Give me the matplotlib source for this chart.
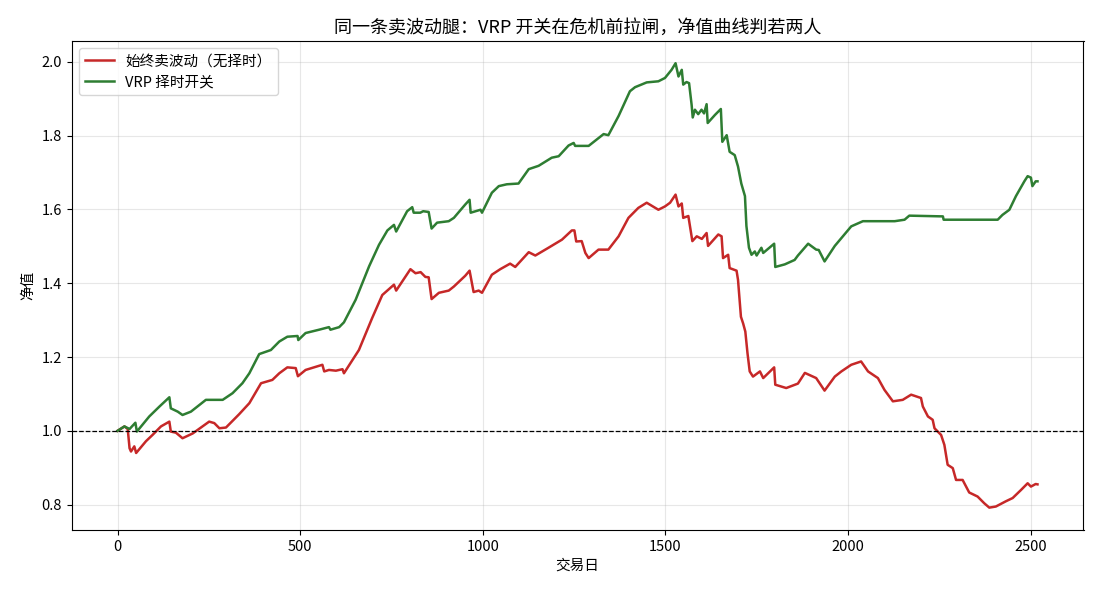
import matplotlib
matplotlib.use("Agg")
import matplotlib.pyplot as plt

plt.rcParams['font.family'] = ['Noto Sans CJK SC', 'DejaVu Sans']
plt.rcParams['axes.unicode_minus'] = False

# 始终卖波动 (无择时)
always_days = [0, 19, 28, 33, 37, 46, 51, 78, 96, 119, 142, 146, 160, 178, 206, 251, 265, 279, 297,
               333, 361, 393, 424, 443, 465, 488, 494, 515, 561, 566, 579, 598, 616, 620, 661,
               697, 725, 757, 763, 802, 816, 830, 843, 852, 860, 880, 907, 921, 952, 964, 975,
               989, 998, 1025, 1048, 1075, 1089, 1126, 1144, 1180, 1217, 1244, 1251, 1256,
               1271, 1281, 1290, 1317, 1344, 1372, 1399, 1413, 1426, 1449, 1481, 1499, 1513,
               1528, 1536, 1545, 1549, 1563, 1574, 1586, 1600, 1613, 1617, 1645, 1654, 1658,
               1672, 1676, 1690, 1695, 1699, 1707, 1713, 1719, 1725, 1731, 1740, 1759, 1768,
               1798, 1801, 1831, 1863, 1882, 1913, 1936, 1964, 1982, 2009, 2036, 2055, 2082,
               2100, 2123, 2150, 2173, 2200, 2205, 2219, 2232, 2237, 2255, 2264, 2273, 2287,
               2296, 2314, 2332, 2355, 2373, 2387, 2405, 2432, 2451, 2474, 2492, 2501, 2514, 2519]
always_nav = [1.000, 1.012, 1.005, 0.953, 0.944, 0.958, 0.940, 0.972, 0.989, 1.012, 1.025, 0.998,
              0.995, 0.980, 0.993, 1.025, 1.021, 1.007, 1.009, 1.045, 1.075, 1.129, 1.138, 1.156,
              1.172, 1.170, 1.148, 1.165, 1.179, 1.161, 1.165, 1.163, 1.167, 1.156, 1.219, 1.305,
              1.368, 1.396, 1.380, 1.438, 1.427, 1.430, 1.417, 1.416, 1.357, 1.374, 1.380, 1.391,
              1.420, 1.434, 1.376, 1.380, 1.374, 1.423, 1.438, 1.453, 1.444, 1.484, 1.475, 1.496,
              1.518, 1.543, 1.543, 1.513, 1.514, 1.482, 1.468, 1.491, 1.491, 1.527, 1.577, 1.591,
              1.604, 1.618, 1.599, 1.608, 1.618, 1.640, 1.608, 1.616, 1.577, 1.582, 1.514, 1.527,
              1.520, 1.536, 1.501, 1.532, 1.527, 1.468, 1.477, 1.441, 1.436, 1.434, 1.409, 1.309,
              1.291, 1.269, 1.210, 1.161, 1.147, 1.161, 1.143, 1.172, 1.125, 1.116, 1.128, 1.157,
              1.143, 1.109, 1.147, 1.161, 1.179, 1.188, 1.161, 1.143, 1.111, 1.080, 1.084, 1.098,
              1.089, 1.066, 1.039, 1.030, 1.007, 0.989, 0.962, 0.908, 0.899, 0.867, 0.867, 0.833,
              0.822, 0.804, 0.792, 0.795, 0.809, 0.818, 0.840, 0.858, 0.849, 0.856, 0.855]

# VRP 择时开关
vrp_days = [0, 19, 33, 49, 53, 87, 115, 142, 146, 165, 178, 201, 242, 288, 315, 342, 361, 388,
            420, 443, 465, 493, 495, 515, 552, 579, 583, 607, 620, 652, 689, 716, 739, 757, 763,
            793, 807, 811, 829, 837, 852, 860, 875, 907, 921, 952, 964, 967, 994, 998, 1025,
            1044, 1066, 1098, 1126, 1153, 1189, 1208, 1235, 1249, 1253, 1290, 1331, 1344, 1372,
            1403, 1417, 1449, 1481, 1499, 1517, 1528, 1536, 1545, 1549, 1558, 1565, 1572, 1575,
            1581, 1590, 1599, 1606, 1613, 1616, 1636, 1652, 1656, 1668, 1676, 1690, 1699, 1708,
            1718, 1722, 1729, 1736, 1745, 1750, 1763, 1768, 1798, 1801, 1827, 1854, 1863, 1891,
            1913, 1920, 1936, 1964, 1986, 2009, 2041, 2128, 2155, 2168, 2260, 2262, 2410, 2423,
            2442, 2460, 2483, 2492, 2501, 2505, 2514, 2519]
vrp_nav = [1.000, 1.012, 1.005, 1.022, 0.998, 1.039, 1.066, 1.091, 1.061, 1.052, 1.043, 1.052,
           1.084, 1.084, 1.102, 1.129, 1.156, 1.208, 1.219, 1.242, 1.255, 1.257, 1.246, 1.265,
           1.274, 1.281, 1.274, 1.281, 1.294, 1.355, 1.446, 1.504, 1.543, 1.558, 1.540, 1.595,
           1.606, 1.591, 1.591, 1.595, 1.593, 1.548, 1.564, 1.568, 1.577, 1.613, 1.626, 1.591,
           1.599, 1.591, 1.645, 1.663, 1.668, 1.670, 1.709, 1.718, 1.740, 1.744, 1.773, 1.780,
           1.772, 1.772, 1.804, 1.801, 1.853, 1.920, 1.931, 1.944, 1.947, 1.956, 1.978, 1.996,
           1.960, 1.978, 1.938, 1.945, 1.942, 1.883, 1.849, 1.870, 1.858, 1.870, 1.860, 1.885,
           1.834, 1.856, 1.872, 1.783, 1.801, 1.756, 1.747, 1.716, 1.670, 1.636, 1.555, 1.496,
           1.477, 1.486, 1.475, 1.496, 1.482, 1.507, 1.444, 1.451, 1.463, 1.475, 1.507, 1.491,
           1.490, 1.459, 1.501, 1.527, 1.554, 1.568, 1.568, 1.572, 1.583, 1.581, 1.572, 1.572,
           1.585, 1.599, 1.636, 1.676, 1.690, 1.686, 1.663, 1.676, 1.676]

fig, ax = plt.subplots(figsize=(11, 5.94), dpi=100)
ax.plot(always_days, always_nav, color='#c62828', lw=1.8, label='始终卖波动（无择时）')
ax.plot(vrp_days, vrp_nav, color='#2e7d32', lw=1.8, label='VRP 择时开关')
ax.axhline(1.0, color='black', ls='--', lw=0.9)

ax.set_title('同一条卖波动腿：VRP 开关在危机前拉闸，净值曲线判若两人', fontsize=13)
ax.set_xlabel('交易日', fontsize=10.5)
ax.set_ylabel('净值', fontsize=10.5)
ax.tick_params(labelsize=10.5)
ax.grid(alpha=0.3)
ax.legend(loc='upper left', fontsize=10.5)

plt.subplots_adjust(left=0.065, right=0.985, top=0.931, bottom=0.108)
plt.savefig('out.png')
